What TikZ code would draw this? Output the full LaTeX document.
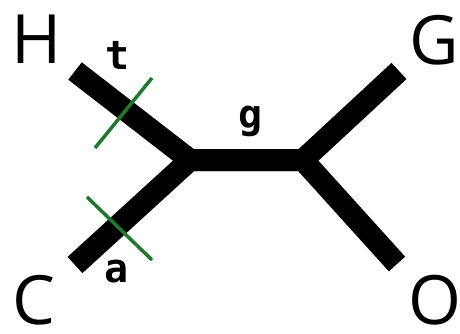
\documentclass[tikz,border=0pt]{standalone}
\usepackage{fontspec}
\setmainfont{Open Sans}
\newfontfamily\monofont{DejaVu Sans Mono}
\usepackage{tikz}
\usepackage{xcolor}
\definecolor{tickgreen}{RGB}{30,120,45}
\tikzset{leaf/.style={font=\fontsize{68}{68}\selectfont,inner sep=0pt},
  edgelab/.style={font=\monofont\bfseries\fontsize{40}{40}\selectfont,inner sep=0pt},
  branch/.style={line width=22pt,line cap=butt,line join=miter},
  tickmark/.style={tickgreen,line width=3.5pt}}

\begin{document}
\begin{tikzpicture}[x=1pt,y=-1pt]
\useasboundingbox (0,0) rectangle (460,334);
\node[leaf] (H) at (37,39) {H};\node[leaf] (G) at (434,40) {G};
\node[leaf] (C) at (34,300) {C};\node[leaf] (O) at (435,300) {O};
\coordinate (hEnd) at (75,71);\coordinate (cEnd) at (75,265);
\coordinate (gEnd) at (399,71);\coordinate (oEnd) at (397,264);
\coordinate (left) at (190,160);\coordinate (right) at (303,160);
\draw[branch] (hEnd)--(left)--(right)--(gEnd);
\draw[branch] (cEnd)--(left)--(right)--(oEnd);
\coordinate (t1) at (95,148);\coordinate (t2) at (152,78);
\coordinate (a1) at (87,197);\coordinate (a2) at (152,260);
\draw[tickmark] (t1)--(t2);\draw[tickmark] (a1)--(a2);
\node[edgelab] (t) at (118,55) {t};\node[edgelab] (g) at (251,121) {g};
\node[edgelab] (a) at (117,272) {a};
\end{tikzpicture}
\end{document}
